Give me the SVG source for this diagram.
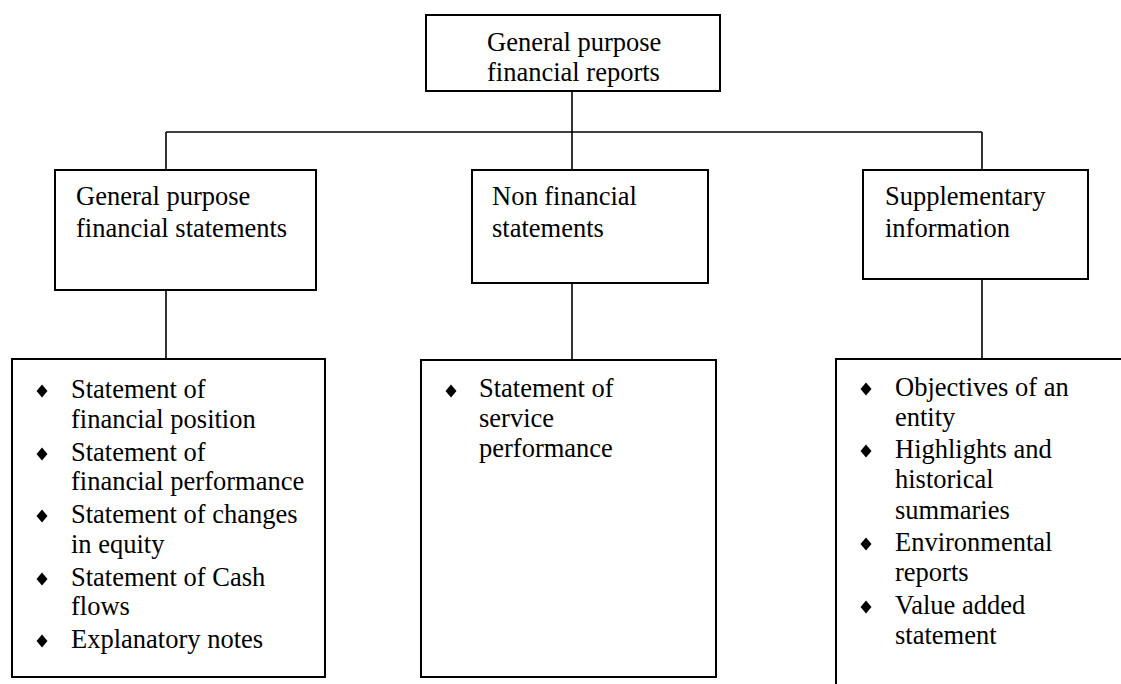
<svg xmlns="http://www.w3.org/2000/svg" width="1121" height="684" viewBox="0 0 1121 684">
<style>
.box{fill:#fff;stroke:#000;stroke-width:2}
.con{fill:none;stroke:#000;stroke-width:1.6}
text{font-family:"Liberation Serif","Times New Roman","DejaVu Serif",serif;font-size:26.5px;fill:#000}
</style>
<defs>
<path id="bul" d="M0,-6.5 L5.5,0 L0,6.5 L-5.5,0 Z" fill="#000"/>
</defs>
<rect width="1121" height="684" fill="#fff"/>
<g id="connectors">
<line class="con" x1="572" y1="91" x2="572" y2="132"/>
<line class="con" x1="166" y1="132" x2="982" y2="132"/>
<line class="con" x1="166" y1="132" x2="166" y2="170"/>
<line class="con" x1="572" y1="132" x2="572" y2="170"/>
<line class="con" x1="982" y1="132" x2="982" y2="170"/>
<line class="con" x1="166" y1="290" x2="166" y2="359"/>
<line class="con" x1="572" y1="283" x2="572" y2="360"/>
<line class="con" x1="982" y1="279" x2="982" y2="359"/>
</g>
<g id="root">
<rect class="box" x="426" y="15" width="294" height="76"/>
<text x="487" y="51">General purpose</text>
<text x="487" y="81">financial reports</text>
</g>
<g id="gpfs">
<rect class="box" x="55" y="170" width="261" height="120"/>
<text x="76" y="205">General purpose</text>
<text x="76" y="237">financial statements</text>
</g>
<g id="nfs">
<rect class="box" x="472" y="170" width="236" height="113"/>
<text x="492" y="205">Non financial</text>
<text x="492" y="237">statements</text>
</g>
<g id="supp">
<rect class="box" x="863" y="170" width="225" height="109"/>
<text x="885" y="205">Supplementary</text>
<text x="885" y="237">information</text>
</g>
<g id="gpfs-list">
<rect class="box" x="12" y="359" width="313" height="318"/>
<use href="#bul" x="42" y="391"/>
<text x="71" y="398">Statement of</text>
<text x="71" y="428">financial position</text>
<use href="#bul" x="42" y="454"/>
<text x="71" y="461">Statement of</text>
<text x="71" y="490">financial performance</text>
<use href="#bul" x="42" y="516"/>
<text x="71" y="523">Statement of changes</text>
<text x="71" y="553">in equity</text>
<use href="#bul" x="42" y="579"/>
<text x="71" y="586">Statement of Cash</text>
<text x="71" y="615">flows</text>
<use href="#bul" x="42" y="641"/>
<text x="71" y="648">Explanatory notes</text>
</g>
<g id="nfs-list">
<rect class="box" x="421" y="360" width="295" height="317"/>
<use href="#bul" x="451" y="391"/>
<text x="479" y="397">Statement of</text>
<text x="479" y="427">service</text>
<text x="479" y="457">performance</text>
</g>
<g id="supp-list">
<path class="box" d="M1125,359 L836,359 L836,688"/>
<use href="#bul" x="866" y="389"/>
<text x="895" y="396">Objectives of an</text>
<text x="895" y="426">entity</text>
<use href="#bul" x="866" y="451"/>
<text x="895" y="458">Highlights and</text>
<text x="895" y="488">historical</text>
<text x="895" y="519">summaries</text>
<use href="#bul" x="866" y="544"/>
<text x="895" y="551">Environmental</text>
<text x="895" y="581">reports</text>
<use href="#bul" x="866" y="607"/>
<text x="895" y="614">Value added</text>
<text x="895" y="644">statement</text>
</g>
</svg>
